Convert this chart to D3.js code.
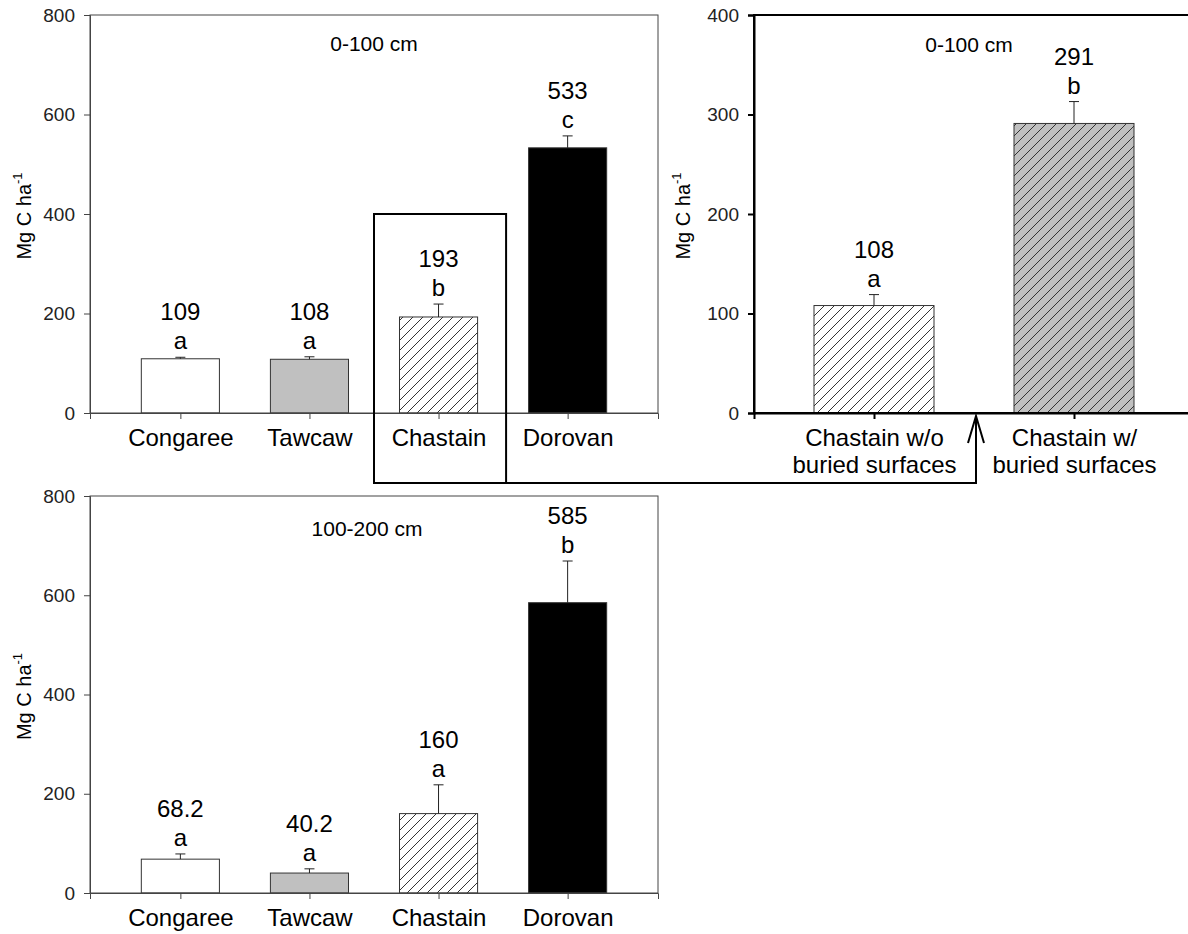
<!DOCTYPE html>
<html>
<head>
<meta charset="utf-8">
<script src="https://cdn.jsdelivr.net/npm/d3@7"></script>
<style>
  body { margin: 0; background: #fff; }
  svg { display: block; font-family: "Liberation Sans", Arial, sans-serif; }
</style>
</head>
<body>
<svg id="chart" width="1188" height="934"></svg>
<script>
// ---------- data ----------
const categories = ["Congaree", "Tawcaw", "Chastain", "Dorovan"];
const fills = ["white", "gray", "hatchWhite", "black"];

const top100Values = [109, 108, 193, 533];
const top100Err = [3, 5, 26, 24];
const top100Labels = ["109", "108", "193", "533"];
const top100Letters = ["a", "a", "b", "c"];

const deepValues = [68.2, 40.2, 160, 585];
const deepErr = [10.5, 8.5, 58, 84];
const deepLabels = ["68.2", "40.2", "160", "585"];
const deepLetters = ["a", "a", "a", "b"];

const chastainCats = ["Chastain w/o|buried surfaces", "Chastain w/|buried surfaces"];
const chastainFills = ["hatchWhite", "hatchGray"];
const chastainValues = [108, 291];
const chastainErr = [11, 22];
const chastainLabels = ["108", "291"];
const chastainLetters = ["a", "b"];

const ticks800 = [0, 200, 400, 600, 800];
const ticks400 = [0, 100, 200, 300, 400];

// ---------- drawing ----------
const svg = d3.select("#chart");
svg.append("rect").attr("width", 1188).attr("height", 934).attr("fill", "#fff");

const defs = svg.append("defs");
function hatch(id, bg) {
  const p = defs.append("pattern").attr("id", id)
    .attr("patternUnits", "userSpaceOnUse").attr("width", 10).attr("height", 10);
  p.append("rect").attr("width", 10).attr("height", 10).attr("fill", bg);
  p.append("path").attr("d", "M-1,1 l2,-2 M0,10 l10,-10 M9,11 l2,-2")
    .attr("stroke", "#333").attr("stroke-width", 1);
}
hatch("hatchWhite", "#fff");
hatch("hatchGray", "#c0c0c0");
const fillMap = { white: "#fff", gray: "#c0c0c0", black: "#000",
  hatchWhite: "url(#hatchWhite)", hatchGray: "url(#hatchGray)" };

function panel(opt) {
  const { left, right, top, bottom, ymax, ticks, cats, vals, errs, labels, letters, fillKeys,
          title, frameColor, frameWidth, titleX, titleBaseline, axisTitleX, padding, barFrac } = opt;
  const g = svg.append("g");
  const x = d3.scalePoint().domain(cats).range([left, right]).padding(padding);
  const y = d3.scaleLinear().domain([0, ymax]).range([bottom, top]);
  const bw = x.step() * barFrac;

  // bars
  g.selectAll("rect.bar").data(cats).join("rect").attr("class", "bar")
    .attr("x", d => x(d) - bw / 2)
    .attr("y", (d, i) => y(vals[i]))
    .attr("width", bw)
    .attr("height", (d, i) => bottom - y(vals[i]))
    .attr("fill", (d, i) => fillMap[fillKeys[i]])
    .attr("stroke", "#333").attr("stroke-width", 1);

  // error bars (upper only)
  const capW = 10;
  g.selectAll("path.err").data(cats).join("path").attr("class", "err")
    .attr("d", (d, i) => {
      const cx = x(d), y0 = y(vals[i]), y1 = y(vals[i] + errs[i]);
      return `M${cx},${y0}V${y1}M${cx - capW / 2},${y1}H${cx + capW / 2}`;
    })
    .attr("stroke", "#222").attr("stroke-width", 1).attr("fill", "none");

  // value labels and letters
  g.selectAll("text.letter").data(cats).join("text").attr("class", "letter")
    .attr("x", d => x(d)).attr("y", (d, i) => y(vals[i] + errs[i]) - 8)
    .attr("text-anchor", "middle").attr("font-size", 24).attr("fill", "#000")
    .text((d, i) => letters[i]);
  g.selectAll("text.val").data(cats).join("text").attr("class", "val")
    .attr("x", d => x(d)).attr("y", (d, i) => y(vals[i] + errs[i]) - 37)
    .attr("text-anchor", "middle").attr("font-size", 24).attr("fill", "#000")
    .text((d, i) => labels[i]);

  // frame
  g.append("rect").attr("x", left).attr("y", top)
    .attr("width", right - left).attr("height", bottom - top)
    .attr("fill", "none").attr("stroke", frameColor).attr("stroke-width", frameWidth);

  // y axis
  const ya = g.append("g").attr("transform", `translate(${left},0)`)
    .call(d3.axisLeft(y).tickValues(ticks).tickSize(6).tickPadding(9).tickFormat(d3.format("d")));
  ya.select(".domain").attr("stroke", frameColor).attr("stroke-width", frameWidth);
  ya.selectAll(".tick line").attr("stroke", frameColor).attr("stroke-width", frameWidth);
  ya.selectAll(".tick text").attr("font-size", 19).attr("fill", "#222")
    .attr("font-family", "'Liberation Sans', Arial, sans-serif");

  // x axis
  const xa = g.append("g").attr("transform", `translate(0,${bottom})`)
    .call(d3.axisBottom(x).tickSize(6).tickPadding(10));
  xa.select(".domain").attr("stroke", frameColor).attr("stroke-width", frameWidth);
  xa.selectAll(".tick line").attr("stroke", frameColor).attr("stroke-width", frameWidth);
  xa.selectAll(".tick text").remove();
  xa.selectAll(".tick").each(function (d) {
    const parts = d.split("|");
    const t = d3.select(this).append("text").attr("fill", "#000").attr("font-size", 24)
      .attr("text-anchor", "middle")
      .attr("font-family", "'Liberation Sans', Arial, sans-serif");
    parts.forEach((p, k) => {
      t.append("tspan").attr("x", 0).attr("y", 33 + k * 27).text(p);
    });
  });

  // panel title
  g.append("text").attr("x", titleX).attr("y", titleBaseline)
    .attr("text-anchor", "middle").attr("font-size", 21).attr("fill", "#000").text(title);

  // y axis title
  const cy = (top + bottom) / 2 + 2;
  const at = g.append("text").attr("transform", `translate(${axisTitleX},${cy}) rotate(-90)`)
    .attr("text-anchor", "middle").attr("font-size", 20).attr("fill", "#000");
  at.append("tspan").text("Mg C ha");
  at.append("tspan").attr("font-size", 13).attr("dy", -9).text("-1");

  return { x, y, bw };
}

const tl = panel({ left: 90, right: 658, top: 15, bottom: 413, ymax: 800, ticks: ticks800,
  cats: categories, vals: top100Values, errs: top100Err, labels: top100Labels, letters: top100Letters,
  fillKeys: fills, title: "0-100 cm", frameColor: "#444", frameWidth: 1,
  titleX: 374, titleBaseline: 51, axisTitleX: 31, padding: 0.7, barFrac: 0.605 });

const bl = panel({ left: 90, right: 658, top: 496, bottom: 893, ymax: 800, ticks: ticks800,
  cats: categories, vals: deepValues, errs: deepErr, labels: deepLabels, letters: deepLetters,
  fillKeys: fills, title: "100-200 cm", frameColor: "#444", frameWidth: 1,
  titleX: 367, titleBaseline: 536, axisTitleX: 31, padding: 0.7, barFrac: 0.605 });

const tr = panel({ left: 754, right: 1194, top: 15, bottom: 413, ymax: 400, ticks: ticks400,
  cats: chastainCats, vals: chastainValues, errs: chastainErr, labels: chastainLabels, letters: chastainLetters,
  fillKeys: chastainFills, title: "0-100 cm", frameColor: "#000", frameWidth: 2,
  titleX: 969, titleBaseline: 52, axisTitleX: 690, padding: 0.6, barFrac: 0.6 });

// highlight box around Chastain and connector arrow
const step = tl.x.step();
const bx0 = tl.x("Chastain") - step / 2;
const bx1 = tl.x("Chastain") + step / 2 + 3;
const by0 = tl.y(400);
const by1 = tl.y(0) + 70;
const arrowX = (tr.x(chastainCats[0]) + tr.x(chastainCats[1])) / 2 + 2;
const arrowTip = tr.y(0) + 3;
svg.append("path")
  .attr("d", `M${bx0},${by0}H${bx1}V${by1}H${bx0}Z`)
  .attr("fill", "none").attr("stroke", "#000").attr("stroke-width", 2);
svg.append("path")
  .attr("d", `M${bx1},${by1}H${arrowX}V${arrowTip}`)
  .attr("fill", "none").attr("stroke", "#000").attr("stroke-width", 2);
svg.append("path")
  .attr("d", `M${arrowX - 8},${arrowTip + 27}L${arrowX},${arrowTip}L${arrowX + 8},${arrowTip + 27}`)
  .attr("fill", "none").attr("stroke", "#000").attr("stroke-width", 2);
</script>
</body>
</html>
